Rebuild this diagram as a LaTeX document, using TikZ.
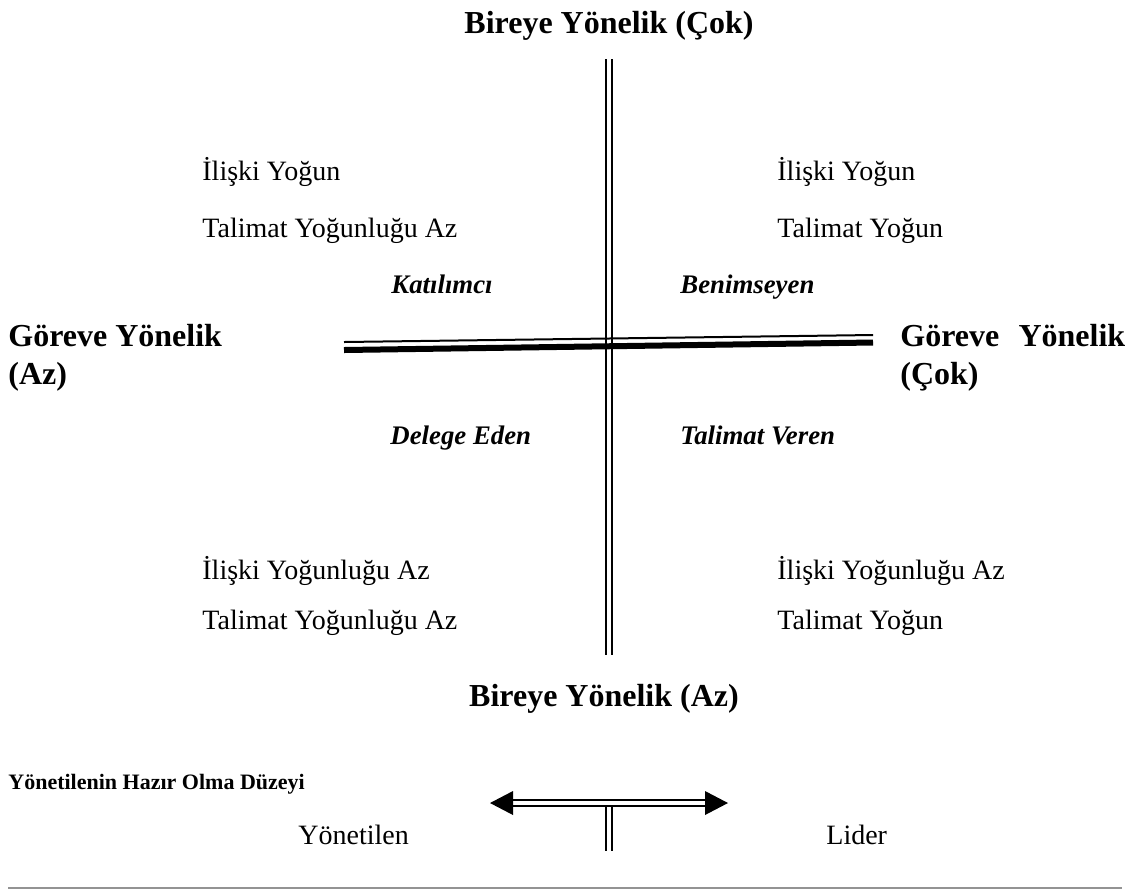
\documentclass[tikz,border=0pt]{standalone}
\usepackage{fontspec}
\setmainfont{Liberation Serif}
\begin{document}
\begin{tikzpicture}[x=0.5pt,y=-0.5pt,
  head/.style={font=\fontsize{16}{19}\selectfont\bfseries, inner sep=0},
  small head/.style={font=\fontsize{11}{13}\selectfont\bfseries, inner sep=0, anchor=base west},
  body/.style={font=\fontsize{14}{17}\selectfont, inner sep=0, anchor=base west},
  role/.style={font=\fontsize{13.4}{16}\selectfont\bfseries\itshape, inner sep=0, anchor=base west},
  twin/.style={line width=1.1pt, double, double distance=1.9pt},
  tip/.style={fill=black, draw=none},
]
\useasboundingbox (0,0) rectangle (1144,891);

% vertical axis: orientation towards people
\coordinate (vtop) at (609,59);
\coordinate (vbot) at (609,655);
\draw[twin] (vtop) -- (vbot);

% horizontal axis: orientation towards the task (thin over thick)
\coordinate (hlA) at (344,342);
\coordinate (hrA) at (873,335);
\coordinate (hlB) at (344,350);
\coordinate (hrB) at (873,342.5);
\draw[line width=1pt] (hlA) -- (hrA);
\draw[line width=3pt] (hlB) -- (hrB);

% axis labels
\node[head, anchor=base] (ytop) at (609,33) {Bireye Yönelik (Çok)};
\node[head, anchor=base] (ybot) at (604,706) {Bireye Yönelik (Az)};
\node[head, anchor=base west] (xl1) at (8,346) {Göreve Yönelik};
\node[head, anchor=base west] (xl2) at (8,384) {(Az)};
\node[head, anchor=base west] (xr1) at (900,346) {Göreve\hspace{0.6em}Yönelik};
\node[head, anchor=base west] (xr2) at (900,384) {(Çok)};

% quadrant descriptions
\node[body] (q1a) at (202,180) {İlişki Yoğun};
\node[body] (q1b) at (202,237) {Talimat Yoğunluğu Az};
\node[body] (q2a) at (777,180) {İlişki Yoğun};
\node[body] (q2b) at (777,237) {Talimat Yoğun};
\node[body] (q3a) at (202,579) {İlişki Yoğunluğu Az};
\node[body] (q3b) at (202,629) {Talimat Yoğunluğu Az};
\node[body] (q4a) at (777,579) {İlişki Yoğunluğu Az};
\node[body] (q4b) at (777,629) {Talimat Yoğun};

% leadership styles
\node[role] (s1) at (391,293) {Katılımcı};
\node[role] (s2) at (680,293) {Benimseyen};
\node[role] (s3) at (390,444) {Delege Eden};
\node[role] (s4) at (680,444) {Talimat Veren};

% readiness scale
\node[small head] (rd) at (8,789) {Yönetilenin Hazır Olma Düzeyi};
\node[body] (fl) at (298,844) {Yönetilen};
\node[body] (ld) at (826,844) {Lider};

\coordinate (al) at (490,803);
\coordinate (ar) at (728,803);
\coordinate (alb) at (512,803);
\coordinate (arb) at (706,803);
\coordinate (sm) at (609,806);
\coordinate (sb) at (609,851);
\draw[twin] (sm) -- (sb);
\draw[twin] (alb) -- (arb);
\fill[tip] (al) -- ++(23,-12) -- ++(0,24) -- cycle;
\fill[tip] (ar) -- ++(-23,-12) -- ++(0,24) -- cycle;

% rule under the figure
\coordinate (rl) at (8,888);
\coordinate (rr) at (1122,888);
\draw[line width=1pt, gray!85] (rl) -- (rr);
\end{tikzpicture}
\end{document}
